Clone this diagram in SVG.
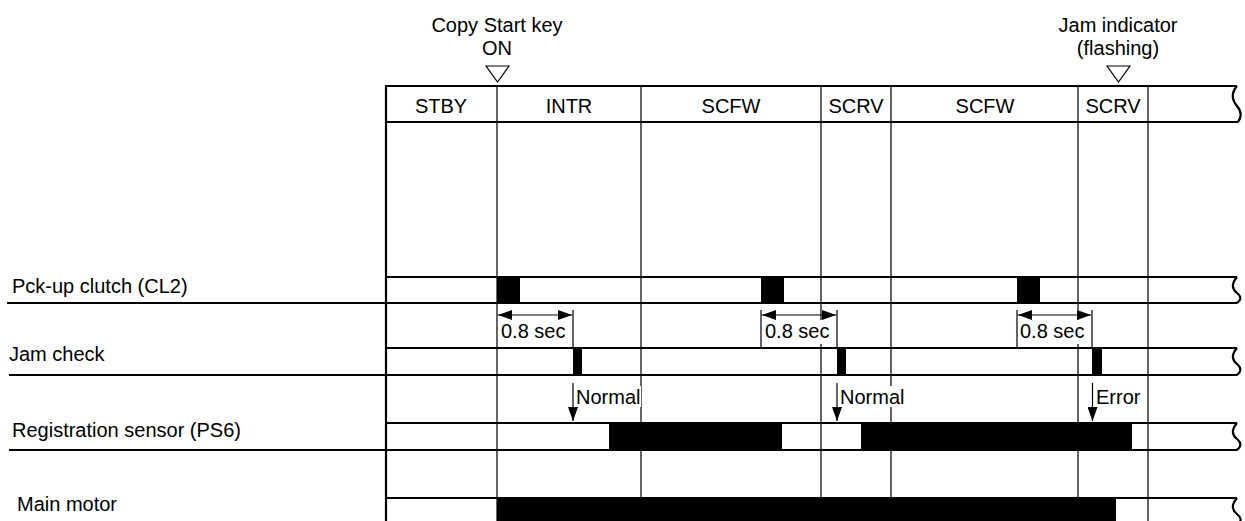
<svg xmlns="http://www.w3.org/2000/svg" width="1245" height="521" viewBox="0 0 1245 521">
<style>
text{font-family:"Liberation Sans",Arial,sans-serif;font-size:20px;fill:#000}
.c{text-anchor:middle}
.frame{stroke:#000;stroke-width:2.2;fill:none}
.div{stroke:#000;stroke-width:1.2;fill:none}
.thin{stroke:#000;stroke-width:1.2;fill:none}
.on{fill:#000;stroke:none}
.bg{fill:#fff;stroke:none}
.tri{fill:#fff;stroke:#000;stroke-width:1.2}
</style>
<defs>
<marker id="ah" viewBox="0 0 14 10" refX="14" refY="5" markerWidth="14" markerHeight="10" markerUnits="userSpaceOnUse" orient="auto-start-reverse">
<path d="M0,0 L14,5 L0,10 Z" fill="#000"/>
</marker>
</defs>
<rect width="1245" height="521" fill="#fff"/>

<g id="grid">
<path class="div" d="M497,86V521 M641,86V521 M821,86V521 M891,86V521 M1078,86V521 M1148,86V521"/>
</g>

<g id="header">
<path class="frame" d="M386,86H1237 M386,122H1238"/>
<path class="frame" d="M1237,86 C1231,93 1232,100 1237,106 C1242,112 1241,118 1238,122"/>
<text class="c" x="441" y="113">STBY</text>
<text class="c" x="569" y="113">INTR</text>
<text class="c" x="731" y="113">SCFW</text>
<text class="c" x="856" y="113">SCRV</text>
<text class="c" x="985" y="113">SCFW</text>
<text class="c" x="1113" y="113">SCRV</text>
</g>

<g id="event-copy-start">
<text class="c" x="497" y="32">Copy Start key</text>
<text class="c" x="497" y="55">ON</text>
<path class="tri" d="M486,66H509L497.5,82Z"/>
</g>

<g id="event-jam-indicator">
<text class="c" x="1118" y="32">Jam indicator</text>
<text class="c" x="1118" y="55">(flashing)</text>
<path class="tri" d="M1107,66H1130L1118.5,82Z"/>
</g>

<g id="row-pickup">
<rect class="on" x="497" y="277" width="23" height="26"/>
<rect class="on" x="761" y="277" width="23" height="26"/>
<rect class="on" x="1017" y="277" width="23" height="26"/>
<path class="frame" d="M386,277H1237 M7,303H1237"/>
<path class="frame" d="M1237,277 C1231,284 1232,289 1237,293 C1242,297 1241,300 1237,303"/>
<text x="12" y="293">Pck-up clutch (CL2)</text>
</g>

<g id="row-jam">
<rect class="on" x="573" y="348" width="9" height="27"/>
<rect class="on" x="837" y="348" width="9" height="27"/>
<rect class="on" x="1092" y="348" width="10" height="27"/>
<path class="frame" d="M386,348H1237 M9,375H1237"/>
<path class="frame" d="M1237,348 C1231,355 1232,360 1237,364 C1242,368 1241,372 1237,375"/>
<text x="9" y="361">Jam check</text>
</g>

<g id="row-registration">
<rect class="on" x="609" y="423" width="173" height="27"/>
<rect class="on" x="861" y="423" width="271" height="27"/>
<path class="frame" d="M386,423H1237 M9,450H1237"/>
<path class="frame" d="M1237,423 C1231,430 1232,435 1237,439 C1242,443 1241,447 1237,450"/>
<text x="12" y="437">Registration sensor (PS6)</text>
</g>

<g id="row-main-motor">
<rect class="on" x="497" y="498" width="619" height="24"/>
<path class="frame" d="M386,498H1237"/>
<path class="frame" d="M1237,498 C1231,505 1232,510 1237,514 C1242,518 1241,521 1239,523"/>
<text x="17" y="511">Main motor</text>
</g>

<g id="left-edge">
<path class="frame" d="M386,85V521"/>
</g>

<g id="connectors">
<path class="thin" d="M761,310V348 M1017,310V348 M573,310V348 M837,310V348 M1092,310V348"/>
<path class="thin" d="M498,315H572" marker-start="url(#ah)" marker-end="url(#ah)"/>
<path class="thin" d="M762,315H836" marker-start="url(#ah)" marker-end="url(#ah)"/>
<path class="thin" d="M1018,315H1091" marker-start="url(#ah)" marker-end="url(#ah)"/>
<rect class="bg" x="500" y="320" width="72" height="24"/>
<rect class="bg" x="763" y="320" width="73" height="24"/>
<rect class="bg" x="1019" y="320" width="72" height="24"/>
<text x="501" y="338">0.8 sec</text>
<text x="765" y="338">0.8 sec</text>
<text x="1020" y="338">0.8 sec</text>
<path class="thin" d="M573,383V421" marker-end="url(#ah)"/>
<path class="thin" d="M837,383V421" marker-end="url(#ah)"/>
<path class="thin" d="M1092.5,383V421" marker-end="url(#ah)"/>
<rect class="bg" x="575" y="386" width="66" height="21"/>
<rect class="bg" x="839" y="386" width="66" height="21"/>
<text x="576" y="404">Normal</text>
<text x="840" y="404">Normal</text>
<text x="1096" y="404">Error</text>
</g>
</svg>
